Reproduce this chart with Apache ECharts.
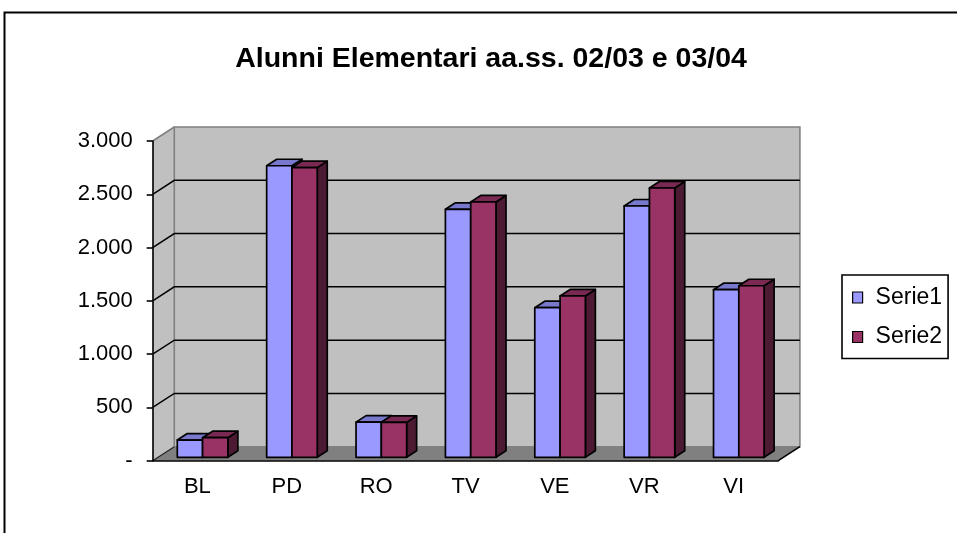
<!DOCTYPE html>
<html>
<head>
<meta charset="utf-8">
<script src="https://cdn.jsdelivr.net/npm/echarts@6/dist/echarts.min.js"></script>
<style>
  html, body { margin: 0; padding: 0; background: #fff; }
  #chart { width: 957px; height: 533px; }
</style>
</head>
<body>
<div id="chart"></div>
<script>
// dati
const categories = ['BL', 'PD', 'RO', 'TV', 'VE', 'VR', 'VI'];
const serie1 = [162, 2736, 330, 2327, 1404, 2358, 1573];
const serie2 = [184, 2718, 328, 2396, 1514, 2527, 1610];
const yTicks = [0, 500, 1000, 1500, 2000, 2500, 3000];

// geometria 3D (pixel)
const DEPTH = { dx: 21.6, dy: -14 };     // profondita' pareti
const FRONT = { dx: 5.2, dy: -3.4 };     // faccia frontale delle barre
const BAR_D = { dx: 10, dy: -6.5 };      // spessore delle barre
const BAR_RATIO = 0.283;

const FONT = 'Liberation Sans, Arial, sans-serif';

function fmt(v) {
  if (v === 0) return '-';
  return String(v).replace(/\B(?=(\d{3})+(?!\d))/g, '.');
}

function renderWalls(params, api) {
  const cs = params.coordSys;
  const x0 = cs.x, x1 = cs.x + cs.width;
  const yTop = cs.y, yBot = cs.y + cs.height;
  const dx = DEPTH.dx, dy = DEPTH.dy;
  const children = [];
  // parete laterale
  children.push({ type: 'polygon', shape: { points: [[x0, yTop], [x0 + dx, yTop + dy], [x0 + dx, yBot + dy], [x0, yBot]] },
    style: { fill: '#C0C0C0', stroke: null } });
  // parete di fondo
  children.push({ type: 'rect', shape: { x: x0 + dx, y: yTop + dy, width: cs.width, height: cs.height },
    style: { fill: '#C0C0C0', stroke: '#808080', lineWidth: 1.6 } });
  // pavimento
  children.push({ type: 'polygon', shape: { points: [[x0, yBot], [x1, yBot], [x1 + dx, yBot + dy], [x0 + dx, yBot + dy]] },
    style: { fill: '#808080', stroke: null } });
  children.push({ type: 'polyline', shape: { points: [[x1, yBot], [x1 + dx, yBot + dy]] },
    style: { stroke: '#000', lineWidth: 1.6, fill: null } });
  children.push({ type: 'polyline', shape: { points: [[x0, yBot], [x0 + dx, yBot + dy]] },
    style: { stroke: '#222', lineWidth: 1.2, fill: null } });
  children.push({ type: 'polyline', shape: { points: [[x0, yTop], [x0 + dx, yTop + dy]] },
    style: { stroke: '#808080', lineWidth: 1.6, fill: null } });
  // griglia
  yTicks.forEach(function (t) {
    if (t === 0 || t === yTicks[yTicks.length - 1]) return;
    const y = api.coord([0, t])[1];
    children.push({ type: 'polyline', shape: { points: [[x0, y], [x0 + dx, y + dy], [x1 + dx, y + dy]] },
      style: { stroke: '#000', lineWidth: 1.5, fill: null } });
  });
  return { type: 'group', children: children };
}

function makeBarRenderer(side, colors) {
  return function (params, api) {
    const i = api.value(0), v = api.value(1);
    const base = api.coord([i, 0]);
    const top = api.coord([i, v]);
    const w = api.size([1, 0])[0] * BAR_RATIO;
    const xl = base[0] + FRONT.dx + (side === 0 ? -w : 0);
    const xr = xl + w;
    const yb = base[1] + FRONT.dy;
    const yt = top[1] + FRONT.dy;
    const bx = BAR_D.dx, by = BAR_D.dy;
    const line = { stroke: '#000', lineWidth: 1.7, lineJoin: 'round' };
    return {
      type: 'group',
      children: [
        { type: 'polygon', shape: { points: [[xr, yt], [xr + bx, yt + by], [xr + bx, yb + by], [xr, yb]] },
          style: Object.assign({ fill: colors.side }, line) },
        { type: 'polygon', shape: { points: [[xl, yt], [xr, yt], [xr + bx, yt + by], [xl + bx, yt + by]] },
          style: Object.assign({ fill: colors.top }, line) },
        { type: 'rect', shape: { x: xl, y: yt, width: w, height: yb - yt },
          style: Object.assign({ fill: colors.front }, line) }
      ]
    };
  };
}

const colors1 = { front: '#9999FF', top: '#7878CC', side: '#6666AA' };
const colors2 = { front: '#993366', top: '#7A2952', side: '#4D1A33' };

const chart = echarts.init(document.getElementById('chart'));
chart.setOption({
  animation: false,
  backgroundColor: '#fff',
  title: {
    text: 'Alunni Elementari aa.ss. 02/03 e 03/04',
    left: 491, top: 45, textAlign: 'center', padding: 0,
    textStyle: { fontFamily: FONT, fontSize: 28.5, fontWeight: 'bold', color: '#000' }
  },
  legend: {
    orient: 'vertical',
    left: 842, top: 275,
    padding: [11, 6, 10, 10],
    itemWidth: 10, itemHeight: 11, itemGap: 16.5,
    borderColor: '#000', borderWidth: 1.6,
    icon: 'rect',
    itemStyle: { borderColor: '#000', borderWidth: 1.2 },
    textStyle: { fontFamily: FONT, fontSize: 23, color: '#000', lineHeight: 22, padding: [0, 0, 0, 8] },
    data: ['Serie1', 'Serie2']
  },
  grid: { left: 152.7, right: 178.7, top: 141, bottom: 72.3 },
  xAxis: {
    type: 'category',
    data: categories,
    z: 5,
    axisLine: { lineStyle: { color: '#000', width: 1.6 } },
    axisTick: { length: 6, lineStyle: { color: '#000', width: 1.6 } },
    axisLabel: { margin: 15, fontFamily: FONT, fontSize: 22, color: '#000' },
    splitLine: { show: false }
  },
  yAxis: {
    type: 'value',
    min: 0, max: 3000, interval: 500,
    z: 5,
    axisLine: { show: true, lineStyle: { color: '#000', width: 1.6 } },
    axisTick: { show: true, length: 6, lineStyle: { color: '#000', width: 1.6 } },
    axisLabel: { margin: 20, fontFamily: FONT, fontSize: 22, color: '#000', formatter: fmt },
    splitLine: { show: false }
  },
  series: [
    {
      name: 'walls', type: 'custom', silent: true, z: 1,
      renderItem: renderWalls,
      data: [[0, 0]],
      encode: { x: 0, y: 1 }
    },
    {
      name: 'Serie1', type: 'custom', z: 2,
      itemStyle: { color: colors1.front },
      renderItem: makeBarRenderer(0, colors1),
      data: serie1.map(function (v, i) { return [i, v]; }),
      encode: { x: 0, y: 1 }
    },
    {
      name: 'Serie2', type: 'custom', z: 3,
      itemStyle: { color: colors2.front },
      renderItem: makeBarRenderer(1, colors2),
      data: serie2.map(function (v, i) { return [i, v]; }),
      encode: { x: 0, y: 1 }
    }
  ],
  graphic: [
    { type: 'rect', z: 100, silent: true,
      shape: { x: 4.5, y: 12.5, width: 1000, height: 600 },
      style: { fill: null, stroke: '#000', lineWidth: 2 } }
  ]
});
</script>
</body>
</html>
